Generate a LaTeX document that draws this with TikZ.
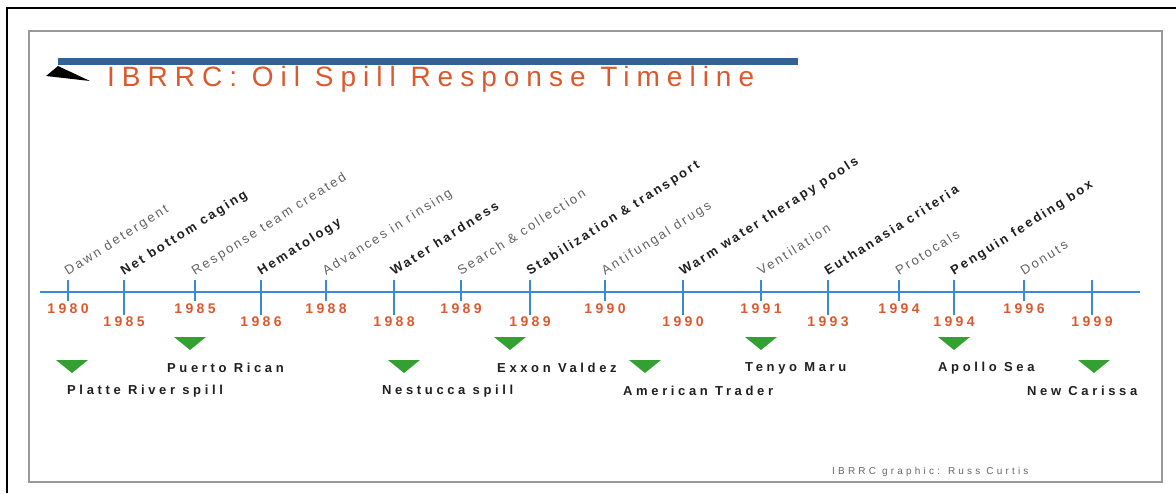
\documentclass[tikz,border=0pt]{standalone}
\usepackage{fontspec}
\setmainfont{Liberation Sans}
\newfontfamily\titlefont[LetterSpace=25]{Liberation Sans}
\newfontfamily\yearfont[LetterSpace=24]{Liberation Sans}
\newfontfamily\careerfont[LetterSpace=18]{Liberation Sans}
\newfontfamily\spillfont[LetterSpace=28]{Liberation Sans}
\newfontfamily\creditfont[LetterSpace=32]{Liberation Sans}
\definecolor{axisblue}{RGB}{58,138,218}
\definecolor{barblue}{RGB}{48,100,152}
\definecolor{ibrrcred}{RGB}{222,88,46}
\definecolor{spillgreen}{RGB}{52,160,52}

\begin{document}
\begin{tikzpicture}[x=1pt,y=-1pt,
  axisline/.style={draw=axisblue,line width=2.5pt},
  shorttick/.style={draw=axisblue,line width=2.5pt},
  longtick/.style={draw=axisblue,line width=2.5pt},
  yearlabel/.style={text=ibrrcred,inner sep=0pt,
    font=\yearfont\bfseries\fontsize{14}{14}\selectfont},
  lightlabel/.style={text=black!62,inner sep=0pt,anchor=base west,rotate=32.5,
    font=\careerfont\fontsize{13}{13}\selectfont},
  boldlabel/.style={text=black!88,inner sep=0pt,anchor=base west,rotate=32.5,
    font=\careerfont\bfseries\fontsize{13}{13}\selectfont},
  spillmark/.style={fill=spillgreen},
  spilllabel/.style={text=black!88,inner sep=0pt,anchor=west,
    font=\spillfont\bfseries\fontsize{13}{13}\selectfont},
  titletext/.style={text=ibrrcred,inner sep=0pt,anchor=west,
    font=\titlefont\fontsize{28}{28}\selectfont},
  credittext/.style={text=black!60,inner sep=0pt,anchor=west,
    font=\creditfont\fontsize{10}{10}\selectfont}]

  \useasboundingbox (0,0) rectangle (1176,493);

  % frames
  \draw[line width=1.5pt] (1176,8) -| (7,493);
  \draw[black!40,line width=2pt] (29,31) rectangle (1162,482);

  % title
  \fill[barblue] (58,58) rectangle (798,65);
  \fill[black] (58,66) -- (46,76) -- (90,81) -- cycle;
  \node[titletext] (title) at (107,79) {IBRRC: Oil Spill Response Timeline};

  % time line
  \coordinate (start) at (40,292);
  \coordinate (end) at (1140,292);
  \draw[axisline] (start) -- (end);

  % care advances, upper row of years
  \foreach \x/\yr/\txt [count=\i] in {68/1980/Dawn detergent,
      195/1985/Response team created, 326/1988/Advances in rinsing,
      461/1989/Search \& collection, 605/1990/Antifungal drugs,
      761/1991/Ventilation, 899/1994/Protocals, 1024/1996/Donuts}
  {
    \draw[shorttick] (\x,280) -- (\x,301);
    \node[yearlabel] (yup\i) at (\x,309) {\yr};
    \node[lightlabel] (care\i) at (\x,276) {\txt};
  }

  % care advances, lower row of years
  \foreach \x/\yr/\txt [count=\i] in {124/1985/Net bottom caging,
      261/1986/Hematology, 394/1988/Water hardness,
      530/1989/Stabilization \& transport, 683/1990/Warm water therapy pools,
      828/1993/Euthanasia criteria, 954/1994/Penguin feeding box, 1092/1999/{}}
  {
    \draw[longtick] (\x,280) -- (\x,315);
    \node[yearlabel] (ydown\i) at (\x,322) {\yr};
    \node[boldlabel] (key\i) at (\x,276) {\txt};
  }

  % oil spills
  \foreach \x/\ty/\lx/\ly/\name [count=\i] in {72/360/67/391/Platte River spill,
      190/337/167/368/Puerto Rican, 404/360/382/391/Nestucca spill,
      510/337/497/368/Exxon Valdez, 645/360/623/391/American Trader,
      761/337/745/368/Tenyo Maru, 954/337/938/368/Apollo Sea,
      1094/360/1027/391/New Carissa}
  {
    \fill[spillmark] (\x-16,\ty) -- (\x+16,\ty) -- (\x,\ty+13) -- cycle;
    \node[spilllabel] (spill\i) at (\lx,\ly) {\name};
  }

  \node[credittext] (credit) at (832,472) {IBRRC graphic: Russ Curtis};
\end{tikzpicture}
\end{document}
